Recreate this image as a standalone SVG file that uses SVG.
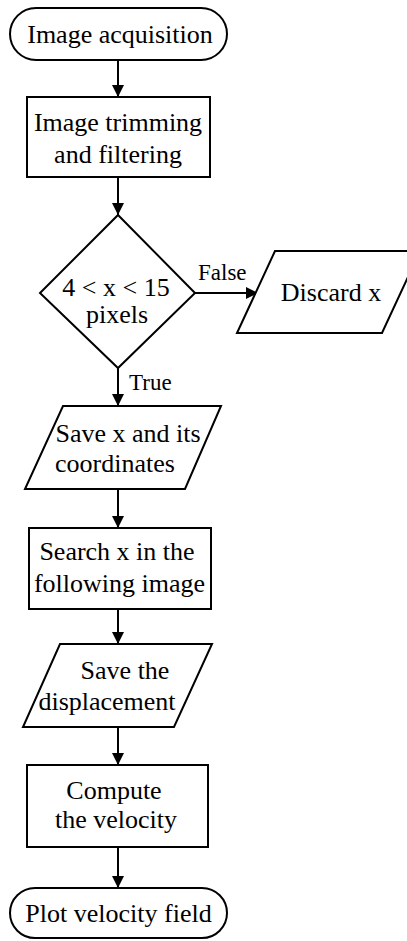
<svg xmlns="http://www.w3.org/2000/svg" width="407" height="941" viewBox="0 0 407 941">
<style>
.s{fill:#fff;stroke:#000;stroke-width:2}
.t{font-family:"Liberation Serif","Times New Roman",serif;font-size:26px;fill:#000;text-anchor:middle}
.l{font-family:"Liberation Serif","Times New Roman",serif;font-size:23px;fill:#000}
.c{stroke:#000;stroke-width:2;fill:none;marker-end:url(#ah)}
</style>
<defs>
<marker id="ah" markerWidth="12" markerHeight="12" refX="12" refY="6" orient="auto" markerUnits="userSpaceOnUse">
<path d="M0,0 L12,6 L0,12 Z" fill="#000"/>
</marker>
</defs>
<rect width="407" height="941" fill="#fff"/>
<g id="connectors">
<line class="c" x1="118" y1="60" x2="118" y2="97"/>
<line class="c" x1="118" y1="177" x2="118" y2="215"/>
<line class="c" x1="195" y1="293" x2="258" y2="293"/>
<line class="c" x1="118" y1="368" x2="118" y2="406"/>
<line class="c" x1="118" y1="489" x2="118" y2="528"/>
<line class="c" x1="118" y1="609" x2="118" y2="644"/>
<line class="c" x1="118" y1="727" x2="118" y2="765"/>
<line class="c" x1="118" y1="847" x2="118" y2="888"/>
<text class="l" x="198" y="280">False</text>
<text class="l" x="129" y="390">True</text>
</g>
<g id="start">
<rect class="s" x="10" y="8" width="217" height="52" rx="26"/>
<text class="t" x="120" y="43">Image acquisition</text>
</g>
<g id="trim">
<rect class="s" x="27" y="97" width="183" height="80"/>
<text class="t" x="118" y="131">Image trimming</text>
<text class="t" x="118" y="163">and filtering</text>
</g>
<g id="decision">
<polygon class="s" points="118,215 195,293 118,368 40,293"/>
<text class="t" x="116" y="296">4 &lt; x &lt; 15</text>
<text class="t" x="117" y="323">pixels</text>
</g>
<g id="discard">
<polygon class="s" points="275,251 420,251 382,333 237,333"/>
<text class="t" x="331" y="301">Discard x</text>
</g>
<g id="save-x">
<polygon class="s" points="63,406 221,406 185,489 25,489"/>
<text class="t" x="128" y="442">Save x and its</text>
<text class="t" x="115" y="472">coordinates</text>
</g>
<g id="search">
<rect class="s" x="29" y="528" width="182" height="81"/>
<text class="t" x="117" y="560">Search x in the</text>
<text class="t" x="119.5" y="592">following image</text>
</g>
<g id="save-disp">
<polygon class="s" points="60,644 212,644 174,727 23,727"/>
<text class="t" x="125" y="679">Save the</text>
<text class="t" x="107" y="710">displacement</text>
</g>
<g id="compute">
<rect class="s" x="27" y="765" width="181" height="82"/>
<text class="t" x="114" y="799">Compute</text>
<text class="t" x="116" y="828">the velocity</text>
</g>
<g id="end">
<rect class="s" x="10" y="888" width="217" height="50" rx="25"/>
<text class="t" x="118.5" y="922">Plot velocity field</text>
</g>
</svg>
